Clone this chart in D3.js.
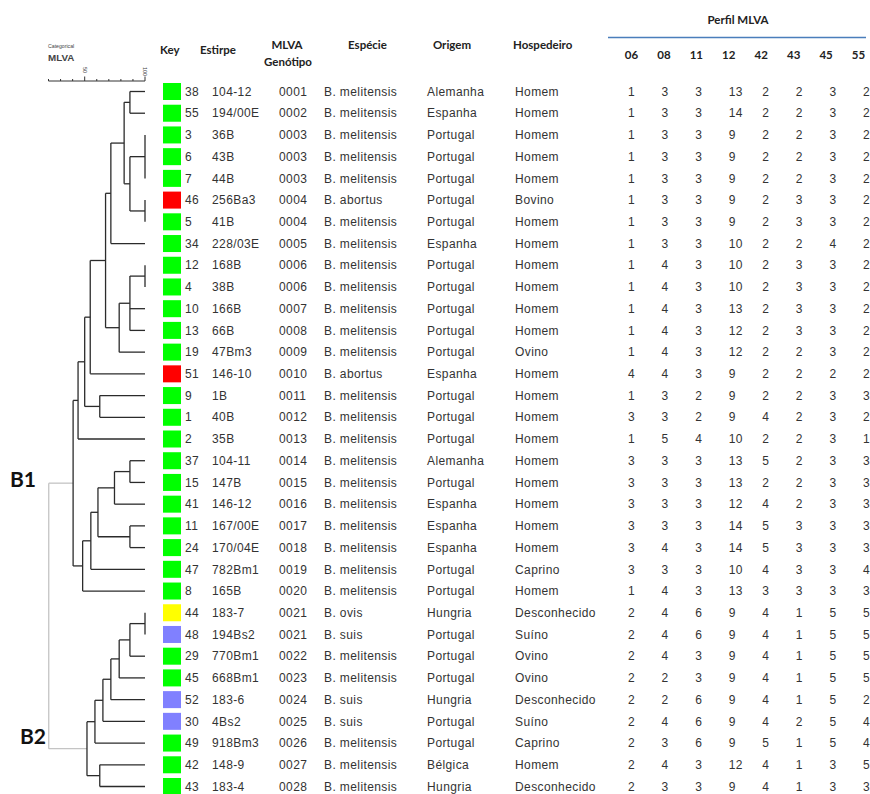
<!DOCTYPE html>
<html>
<head>
<meta charset="utf-8">
<script src="https://cdn.jsdelivr.net/npm/d3@7"></script>
<style>
  html, body { margin: 0; padding: 0; background: #fff; }
  svg { display: block; }
  .hd { font-family: Lato, "Open Sans", sans-serif; font-weight: 700; font-size: 11.5px; fill: #222; }
  .cell { font-family: "Liberation Sans", Arial, sans-serif; font-size: 12px; letter-spacing: 0.4px; fill: #333; }
</style>
</head>
<body>
<svg id="chart" width="870" height="794"></svg>
<script>
// ---------- data ----------
const ids = ["38","55","3","6","7","46","5","34","12","4","10","13","19","51","9","1","2",
  "37","15","41","11","24","47","8","44","48","29","45","52","30","49","42","43"];
const estirpe = ["104-12","194/00E","36B","43B","44B","256Ba3","41B","228/03E","168B","38B","166B","66B","47Bm3","146-10","1B","40B","35B",
  "104-11","147B","146-12","167/00E","170/04E","782Bm1","165B","183-7","194Bs2","770Bm1","668Bm1","183-6","4Bs2","918Bm3","148-9","183-4"];
const genotipo = ["0001","0002","0003","0003","0003","0004","0004","0005","0006","0006","0007","0008","0009","0010","0011","0012","0013",
  "0014","0015","0016","0017","0018","0019","0020","0021","0021","0022","0023","0024","0025","0026","0027","0028"];
const M = "B. melitensis";
const especie = [M,M,M,M,M,"B. abortus",M,M,M,M,M,M,M,"B. abortus",M,M,M,
  M,M,M,M,M,M,M,"B. ovis","B. suis",M,M,"B. suis","B. suis",M,M,M];
const origem = ["Alemanha","Espanha","Portugal","Portugal","Portugal","Portugal","Portugal","Espanha","Portugal","Portugal","Portugal","Portugal","Portugal","Espanha","Portugal","Portugal","Portugal",
  "Alemanha","Portugal","Espanha","Espanha","Espanha","Portugal","Portugal","Hungria","Portugal","Portugal","Portugal","Hungria","Portugal","Portugal","Bélgica","Hungria"];
const hospedeiro = ["Homem","Homem","Homem","Homem","Homem","Bovino","Homem","Homem","Homem","Homem","Homem","Homem","Ovino","Homem","Homem","Homem","Homem",
  "Homem","Homem","Homem","Homem","Homem","Caprino","Homem","Desconhecido","Suíno","Ovino","Ovino","Desconhecido","Suíno","Caprino","Homem","Desconhecido"];
const loci = ["06","08","11","12","42","43","45","55"];
const perfil = [
  [1,3,3,13,2,2,3,2],[1,3,3,14,2,2,3,2],[1,3,3,9,2,2,3,2],[1,3,3,9,2,2,3,2],[1,3,3,9,2,2,3,2],
  [1,3,3,9,2,3,3,2],[1,3,3,9,2,3,3,2],[1,3,3,10,2,2,4,2],[1,4,3,10,2,3,3,2],[1,4,3,10,2,3,3,2],
  [1,4,3,13,2,3,3,2],[1,4,3,12,2,3,3,2],[1,4,3,12,2,2,3,2],[4,4,3,9,2,2,2,2],[1,3,2,9,2,2,3,3],
  [3,3,2,9,4,2,3,2],[1,5,4,10,2,2,3,1],[3,3,3,13,5,2,3,3],[3,3,3,13,2,2,3,3],[3,3,3,12,4,2,3,3],
  [3,3,3,14,5,3,3,3],[3,4,3,14,5,3,3,3],[3,3,3,10,4,3,3,4],[1,4,3,13,3,3,3,3],[2,4,6,9,4,1,5,5],
  [2,4,6,9,4,1,5,5],[2,4,3,9,4,1,5,5],[2,2,3,9,4,1,5,5],[2,2,6,9,4,1,5,2],[2,4,6,9,4,2,5,4],
  [2,3,6,9,5,1,5,4],[2,4,3,12,4,1,3,5],[2,3,3,9,4,1,3,3]
];
const species = ["B. melitensis","B. abortus","B. ovis","B. suis"];
const speciesColors = ["#00ff00","#ff0000","#ffff00","#8080ff"];

// dendrogram: [similarity %, ...children], leaves are strain keys
const tree = [20.2,
  [40.4,
    [44.5,
      [50,
        [54.6,
          [67.3,
            [71.7,
              [82.7, [87.5,"38","55"], [87.5,[100,"3","6","7"],[100,"46","5"]]],
              "34"],
            [78.6, [87.5,[100,"12","4"],"10","13"], "19"]],
          "51"],
        [62.5,"9","1"]],
      "2"],
    [48.3,
      [55.1,
        [61, [74.7,[87.5,"37","15"],"41"], [87.5,"11","24"]],
        "47"],
      "8"]],
  [51.9,
    [58.5,
      [65.1,
        [71.7,
          [78.6, [87.5,[100,"44","48"],"29"], "45"],
          "52"],
        "30"],
      "49"],
    [62.5,"42","43"]]];
const scaleTicks = d3.range(20, 101, 10);
const scaleLabels = [50, 100];
const clusterLabels = [{name: "B1", node: 0}, {name: "B2", node: 1}];

// ---------- layout ----------
const svg = d3.select("#chart");
const y = d3.scalePoint().domain(ids).range([91.5, 786.5]);
const x = d3.scaleLinear().domain([20, 100]).range([48.5, 145]);
const color = d3.scaleOrdinal().domain(species).range(speciesColors);
const lx = d3.scalePoint().domain(loci).range([631.5, 858.5]);   // header centres
const lv = d3.scalePoint().domain(loci).range([628, 863]);       // value left edges

// ---------- dendrogram ----------
const root = d3.hierarchy(tree, (d) => (Array.isArray(d) ? d.slice(1) : null));
root.eachAfter((n) => {
  if (!n.children) { n.px = x(100); n.py = y(n.data); }
  else {
    n.px = x(n.data[0]);
    n.py = (n.children[0].py + n.children[n.children.length - 1].py) / 2;
  }
});

const dg = svg.append("g").attr("fill", "none").attr("stroke-width", 1.3);
root.descendants().filter((n) => n.children).forEach((n) => {
  const stroke = n.depth === 0 ? "#c4c4c4" : "#2b2b2b";
  const first = n.children[0], last = n.children[n.children.length - 1];
  dg.append("line").attr("x1", n.px).attr("x2", n.px).attr("y1", first.py).attr("y2", last.py).attr("stroke", stroke);
  n.children.forEach((c) => {
    if (c.px === n.px) return;
    dg.append("line").attr("x1", n.px).attr("x2", c.px).attr("y1", c.py).attr("y2", c.py).attr("stroke", stroke);
  });
});

// cluster names
clusterLabels.forEach((c) => {
  const n = root.children[c.node];
  svg.append("text").attr("x", c.node === 0 ? 10 : 20).attr("y", c.node === 0 ? n.py - 4 : n.py - 12)
    .attr("dy", "0.35em").attr("font-family", "Lato, sans-serif").attr("font-weight", 700)
    .attr("font-size", 21).attr("fill", "#111").text(c.name);
});

// scale bar
svg.append("text").attr("x", 48).attr("y", 47.5).attr("font-family", "Liberation Sans, Arial").attr("font-size", 5.2).attr("fill", "#444").text("Categorical");
svg.append("text").attr("x", 48).attr("y", 60.5).attr("font-family", "Liberation Sans, Arial").attr("font-weight", 700).attr("font-size", 9.8).attr("fill", "#444").text("MLVA");
const sb = svg.append("g").attr("stroke", "#333").attr("stroke-width", 1);
sb.append("line").attr("x1", x(20)).attr("x2", x(100)).attr("y1", 81).attr("y2", 81);
scaleTicks.forEach((t) => {
  const big = scaleLabels.includes(t);
  sb.append("line").attr("x1", x(t)).attr("x2", x(t)).attr("y1", 81).attr("y2", big ? 76.5 : 79);
});
scaleLabels.forEach((t) => {
  svg.append("text").attr("transform", `translate(${x(t) - 2},${67}) rotate(90)`)
    .attr("font-family", "Liberation Sans, Arial").attr("font-size", 5.5).attr("fill", "#444").text(t);
});

// ---------- headers ----------
const hd = [
  {t: "Key", x: 160, y: 50, a: "start"},
  {t: "Estirpe", x: 200, y: 50, a: "start"},
  {t: "MLVA", x: 287, y: 45, a: "middle"},
  {t: "Genótipo", x: 288, y: 62, a: "middle"},
  {t: "Espécie", x: 367.5, y: 45, a: "middle"},
  {t: "Origem", x: 452, y: 45, a: "middle"},
  {t: "Hospedeiro", x: 513, y: 45, a: "start"},
  {t: "Perfil MLVA", x: 738, y: 20, a: "middle"}
];
svg.selectAll("text.hd").data(hd).join("text").attr("class", "hd")
  .attr("x", (d) => d.x).attr("y", (d) => d.y).attr("dy", "0.35em").attr("text-anchor", (d) => d.a).text((d) => d.t);
svg.append("line").attr("x1", 608).attr("x2", 866).attr("y1", 37.5).attr("y2", 37.5).attr("stroke", "#4a7ebb").attr("stroke-width", 1.3);
svg.selectAll("text.loc").data(loci).join("text").attr("class", "hd loc")
  .attr("x", (d) => lx(d)).attr("y", 55).attr("dy", "0.35em").attr("text-anchor", "middle").text((d) => d);

// ---------- rows ----------
const rows = ids.map((id, i) => ({id, i}));
const rg = svg.selectAll("g.row").data(rows).join("g").attr("class", "row")
  .attr("transform", (d) => `translate(0,${y(d.id)})`);
rg.append("rect").attr("x", 163).attr("y", -8.5).attr("width", 18).attr("height", 17)
  .attr("fill", (d) => color(especie[d.i]));
const cols = [
  {x: 185, v: (d) => d.id},
  {x: 212, v: (d) => estirpe[d.i]},
  {x: 279, v: (d) => genotipo[d.i]},
  {x: 324, v: (d) => especie[d.i]},
  {x: 427, v: (d) => origem[d.i]},
  {x: 515, v: (d) => hospedeiro[d.i]}
];
cols.forEach((c) => {
  rg.append("text").attr("class", "cell").attr("x", c.x).attr("dy", "0.35em").text(c.v);
});
loci.forEach((l, k) => {
  rg.append("text").attr("class", "cell").attr("x", lv(l)).attr("dy", "0.35em")
    .text((d) => perfil[d.i][k]);
});
</script>
</body>
</html>
